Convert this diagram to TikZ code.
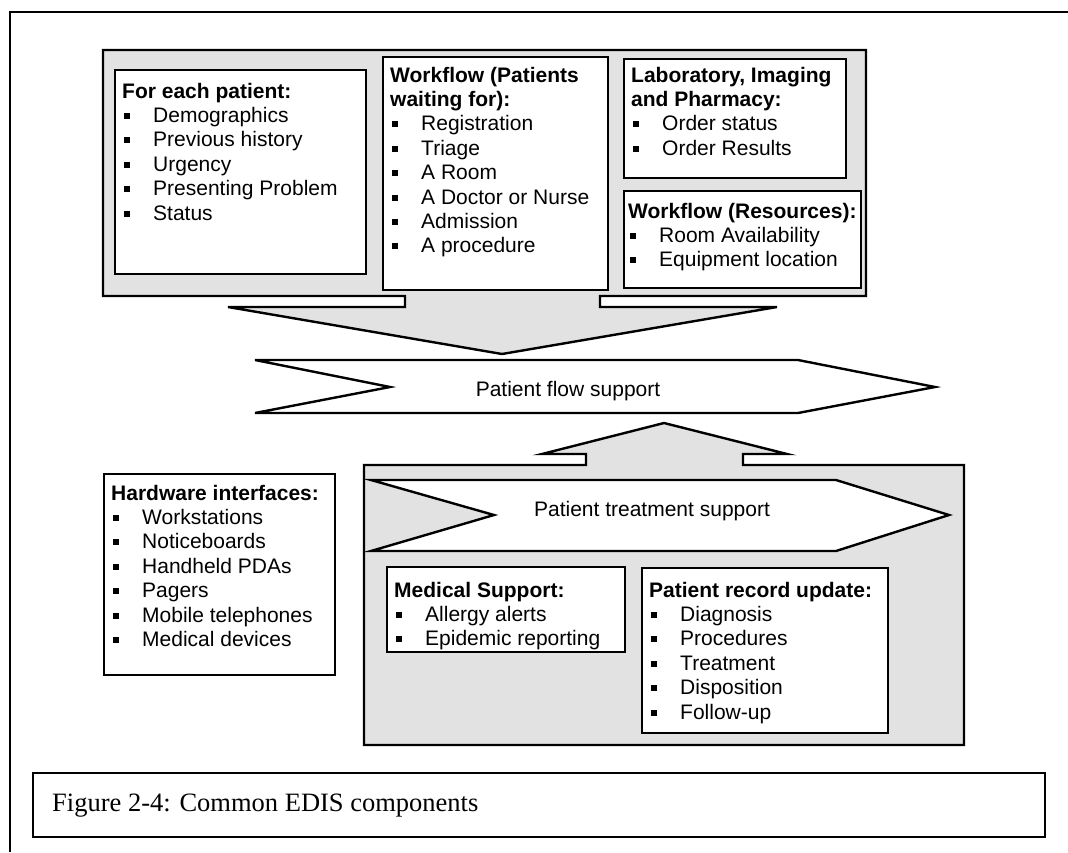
\documentclass[tikz,border=0pt]{standalone}
\usepackage{fontspec}
\setmainfont{Liberation Sans}
\newfontfamily\captionfont{Liberation Serif}
\definecolor{panelgray}{RGB}{226,226,226}
% small square list bullet followed by the item indent
\newcommand\bul{\makebox[31pt][l]{\hspace{2pt}\rule[3.5pt]{6pt}{6pt}}}
\begin{document}
\begin{tikzpicture}[x=1pt,y=-1pt,
  outline/.style={draw=black, line width=2.4pt, line join=miter},
  panel/.style={outline, fill=panelgray},
  flowarrow/.style={outline, fill=white},
  box/.style={outline, fill=white, inner sep=0pt, anchor=north west},
  txt/.style={anchor=base west, inner sep=0pt, font=\fontsize{21}{24.4}\selectfont},
  label/.style={anchor=base, inner sep=0pt, font=\fontsize{21}{24.4}\selectfont}]
\useasboundingbox (0,0) rectangle (1068,852);

% page frame (top and left edges only)
\draw[line width=2.4pt] (10,852) -- (10,12) -- (1068,12);

% upper panel with its downward arrow
\draw[panel] (103,50) -- (866,50) -- (866,296) -- (600,296) -- (600,307) -- (777,307)
  -- (502,354) -- (228,307) -- (405,307) -- (405,296) -- (103,296) -- cycle;

\node[box, minimum width=251pt, minimum height=204pt] (patient) at (114,69) {};
\node[txt] (patient-t) at (122,98) {\begin{tabular}[t]{@{}l@{}}
  \textbf{For each patient:}\\ \bul Demographics\\ \bul Previous history\\
  \bul Urgency\\ \bul Presenting Problem\\ \bul Status\end{tabular}};

\node[box, minimum width=225pt, minimum height=233pt] (waiting) at (382,56) {};
\node[txt] (waiting-t) at (390,82) {\begin{tabular}[t]{@{}l@{}}
  \textbf{Workflow (Patients}\\ \textbf{waiting for):}\\ \bul Registration\\ \bul Triage\\
  \bul A Room\\ \bul A Doctor or Nurse\\ \bul Admission\\ \bul A procedure\end{tabular}};

\node[box, minimum width=222pt, minimum height=119pt] (lab) at (623,58) {};
\node[txt] (lab-t) at (631,82) {\begin{tabular}[t]{@{}l@{}}
  \textbf{Laboratory, Imaging}\\ \textbf{and Pharmacy:}\\ \bul Order status\\ \bul Order Results\end{tabular}};

\node[box, minimum width=237pt, minimum height=97pt] (resources) at (623,190) {};
\node[txt] (resources-t) at (628,218) {\begin{tabular}[t]{@{}l@{}}
  \textbf{Workflow (Resources):}\\ \bul Room Availability\\ \bul Equipment location\end{tabular}};

% patient flow band
\draw[flowarrow] (255,360) -- (798,360) -- (935,387) -- (798,413) -- (255,413) -- (390,387) -- cycle;
\node[label] (flow) at (568,396) {Patient flow support};

% lower panel with its upward arrow
\draw[panel] (364,465) -- (586,465) -- (586,454) -- (542,454) -- (664,423) -- (787,454)
  -- (743,454) -- (743,465) -- (964,465) -- (964,745) -- (364,745) -- cycle;

\draw[flowarrow] (371,480) -- (836,480) -- (949,515) -- (836,551) -- (371,551) -- (494,515) -- cycle;
\node[label] (treatment) at (652,516) {Patient treatment support};

\node[box, minimum width=238pt, minimum height=85pt] (medical) at (386,566) {};
\node[txt] (medical-t) at (394,597) {\begin{tabular}[t]{@{}l@{}}
  \textbf{Medical Support:}\\ \bul Allergy alerts\\ \bul Epidemic reporting\end{tabular}};

\node[box, minimum width=246pt, minimum height=165pt] (record) at (641,567) {};
\node[txt] (record-t) at (649,597) {\begin{tabular}[t]{@{}l@{}}
  \textbf{Patient record update:}\\ \bul Diagnosis\\ \bul Procedures\\ \bul Treatment\\
  \bul Disposition\\ \bul Follow-up\end{tabular}};

% hardware box
\node[box, minimum width=231pt, minimum height=201pt] (hardware) at (103,473) {};
\node[txt] (hardware-t) at (111,500) {\begin{tabular}[t]{@{}l@{}}
  \textbf{Hardware interfaces:}\\ \bul Workstations\\ \bul Noticeboards\\ \bul Handheld PDAs\\
  \bul Pagers\\ \bul Mobile telephones\\ \bul Medical devices\end{tabular}};

% caption
\node[box, minimum width=1012pt, minimum height=64pt] (caption) at (32,772) {};
\node[anchor=base west, inner sep=0pt, font=\captionfont\fontsize{26.5}{30}\selectfont]
  (caption-t) at (52,811) {Figure 2-4: Common EDIS components};
\end{tikzpicture}
\end{document}
